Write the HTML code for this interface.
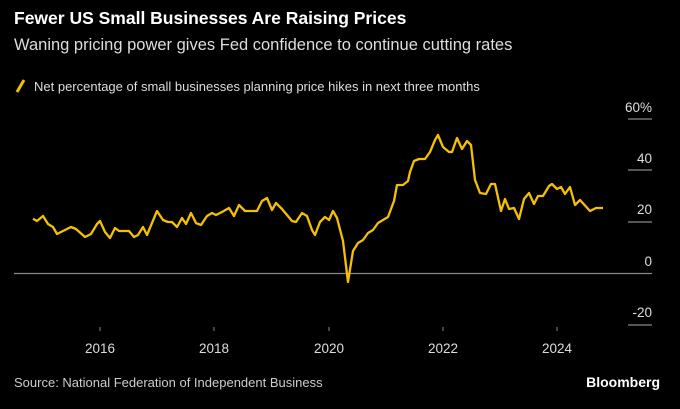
<!DOCTYPE html>
<html><head><meta charset="utf-8"><style>
body{margin:0;background:#000;width:680px;height:404px;overflow:hidden;font-family:"Liberation Sans",sans-serif;color:#fff}
</style></head><body>
<svg width="680" height="404" xmlns="http://www.w3.org/2000/svg" font-family="Liberation Sans, sans-serif">
<rect width="680" height="404" fill="#000"/>
<text x="14" y="24" font-size="17.5" font-weight="bold" fill="#fff">Fewer US Small Businesses Are Raising Prices</text>
<text x="14" y="50" font-size="16.5" fill="#ddd">Waning pricing power gives Fed confidence to continue cutting rates</text>
<line x1="17" y1="92" x2="24" y2="80" stroke="#f5c000" stroke-width="3"/>
<text x="34" y="91" font-size="13" fill="#ddd">Net percentage of small businesses planning price hikes in next three months</text>
<g font-size="13.5" fill="#ddd" text-anchor="end">
<text x="652" y="112">60%</text><text x="652" y="163">40</text><text x="652" y="214">20</text><text x="652" y="266">0</text><text x="652" y="317">-20</text>
</g>
<g stroke="#aaa" stroke-width="1">
<line x1="628" y1="119" x2="652" y2="119"/><line x1="628" y1="170" x2="652" y2="170"/><line x1="628" y1="222" x2="652" y2="222"/><line x1="628" y1="325" x2="652" y2="325"/>
</g>
<line x1="14" y1="273.5" x2="652" y2="273.5" stroke="#888" stroke-width="1.2"/>
<g stroke="#888"><line x1="100" y1="327" x2="100" y2="331"/><line x1="214" y1="327" x2="214" y2="331"/><line x1="329" y1="327" x2="329" y2="331"/><line x1="443" y1="327" x2="443" y2="331"/><line x1="557" y1="327" x2="557" y2="331"/></g>
<g font-size="13.5" fill="#ddd" text-anchor="middle">
<text x="100" y="353">2016</text><text x="214" y="353">2018</text><text x="329" y="353">2020</text><text x="443" y="353">2022</text><text x="557" y="353">2024</text>
</g>
<polyline fill="none" stroke="#f5c000" stroke-width="2.3" stroke-linejoin="round" points="33,218.7 37,221 43,216 48,224 53,227 57,234 71,227 76,229 85,237 91,234 97,224 100,221 105,232 110,238 115,228 119,231 129,231 134,237 138,235 143,227 147,235 157,211 163,220 168,222 172,222 177,227 182,218 186,224 191,213 196,223 201,225 207,216 212,213 216,215 222,212 229,208 234,216 239,205 245,211 257,211 262,201 267,198 272,210 276,203 282,209 292,221 296,222 302,213 307,216 312,230 315,235 320,222 325,217 329,220 333,211 337,218 343,241 348,282 353,251 358,243 363,240 368,233 373,230 378,223 383,220 388,217 394,201 397,185 403,185 408,181 410,172 414,161 419,159 425,159 430,152 435,140 438,135 443,147 449,152 452,152 457,138 462,149 467,141 471,145 475,180 480,193 486,194 491,184 495,184 501,211 505,199 509,209 514,208 519,219 524,199 529,193 534,204 538,196 543,196 549,186 552,184 557,189 561,187 565,194 570,187 575,205 580,200 590,211 596,208 603,208"/>
<text x="14" y="387" font-size="13" fill="#ccc">Source: National Federation of Independent Business</text>
<text x="660" y="387" font-size="14" font-weight="bold" fill="#fff" text-anchor="end">Bloomberg</text>
</svg>
</body></html>
